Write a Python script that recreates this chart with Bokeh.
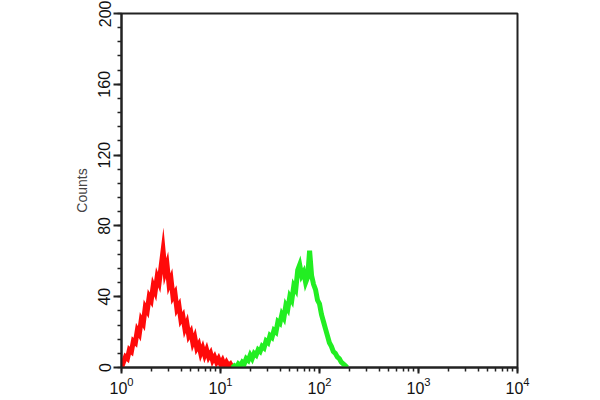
import math
from bokeh.plotting import figure
from bokeh.models import SingleIntervalTicker, LogTicker
from bokeh.embed import file_html
from bokeh.resources import INLINE

# Histogram channels (log10 of fluorescence intensity) and counts
red_log_x = [0.00, 0.02, 0.04, 0.06, 0.08, 0.10, 0.12, 0.14, 0.16, 0.18,
             0.20, 0.22, 0.24, 0.26, 0.28, 0.30, 0.32, 0.34, 0.36, 0.38,
             0.40, 0.42, 0.44, 0.46, 0.48, 0.50, 0.52, 0.54, 0.56, 0.58,
             0.60, 0.62, 0.64, 0.66, 0.68, 0.70, 0.72, 0.74, 0.76, 0.78,
             0.80, 0.82, 0.84, 0.86, 0.88, 0.90, 0.92, 0.94, 0.96, 0.98,
             1.00, 1.02, 1.04, 1.06, 1.08, 1.10, 1.12]
red_counts = [0, 3, 6, 5, 10, 9, 15, 14, 21, 19,
              27, 25, 34, 32, 40, 38, 46, 43, 51, 48,
              57, 66, 54, 58, 47, 50, 40, 42, 33, 35,
              27, 29, 22, 25, 18, 20, 14, 17, 11, 13,
              8, 11, 7, 10, 6, 8, 4, 6, 3, 5,
              2, 4, 1, 3, 1, 2, 0]

green_log_x = [1.12, 1.14, 1.16, 1.18, 1.20, 1.22, 1.24, 1.26, 1.28, 1.30,
               1.32, 1.34, 1.36, 1.38, 1.40, 1.42, 1.44, 1.46, 1.48, 1.50,
               1.52, 1.54, 1.56, 1.58, 1.60, 1.62, 1.64, 1.66, 1.68, 1.70,
               1.72, 1.74, 1.76, 1.78, 1.80, 1.82, 1.84, 1.86, 1.88, 1.90,
               1.92, 1.94, 1.96, 1.98, 2.00, 2.02, 2.04, 2.06, 2.08, 2.10,
               2.12, 2.14, 2.16, 2.18, 2.20, 2.22, 2.24, 2.26, 2.28]
green_counts = [0, 1, 0, 2, 1, 3, 2, 5, 4, 7,
                5, 8, 7, 10, 9, 12, 11, 15, 14, 18,
                17, 21, 20, 26, 25, 30, 28, 35, 33, 40,
                38, 46, 44, 55, 58, 52, 54, 48, 51, 66,
                52, 47, 44, 38, 36, 30, 26, 22, 18, 14,
                12, 9, 8, 6, 5, 3, 2, 1, 0]

y_tick_step = 40
x_start, x_end = 1, 10000
y_start, y_end = 0, 200
y_label = "Counts"

red_x = [10 ** v for v in red_log_x]
green_x = [10 ** v for v in green_log_x]

p = figure(width=600, height=400, x_axis_type="log",
           x_range=(x_start, x_end), y_range=(y_start, y_end),
           output_backend="svg", toolbar_location=None,
           min_border_left=121, min_border_right=83,
           min_border_top=13, min_border_bottom=33)

p.background_fill_color = "white"
p.border_fill_color = "white"
p.grid.visible = False
p.outline_line_color = "#222222"
p.outline_line_width = 2
p.outline_line_alpha = 1

p.line(red_x, red_counts, line_color="#ff0a0a", line_width=5, line_join="miter")
p.line(green_x, green_counts, line_color="#22ee22", line_width=5, line_join="miter")

p.yaxis.ticker = SingleIntervalTicker(interval=y_tick_step, num_minor_ticks=5)
p.xaxis.ticker = LogTicker(num_minor_ticks=10)

for ax in (p.xaxis[0], p.yaxis[0]):
    ax.axis_line_width = 2
    ax.axis_line_color = "#222222"
    ax.major_tick_line_color = "#222222"
    ax.minor_tick_line_color = "#222222"
    ax.major_tick_line_width = 2
    ax.minor_tick_line_width = 1.5
    ax.major_tick_in = 0
    ax.minor_tick_in = 0
    ax.major_label_text_font = "Liberation Sans"
    ax.major_label_text_color = "#111111"

p.yaxis.major_tick_out = 8
p.yaxis.minor_tick_out = 4
p.yaxis.major_label_orientation = "vertical"
p.yaxis.major_label_text_font_size = "16px"
p.yaxis.major_label_standoff = 3
p.yaxis.axis_label = y_label
p.yaxis.axis_label_text_font = "Liberation Sans"
p.yaxis.axis_label_text_font_style = "normal"
p.yaxis.axis_label_text_font_size = "14px"
p.yaxis.axis_label_standoff = 6

p.xaxis.major_tick_out = 6
p.xaxis.minor_tick_out = 4
p.xaxis.major_label_text_font_size = "16px"
p.xaxis.major_label_standoff = 3

open("out.html", "w").write(file_html(p, INLINE))
